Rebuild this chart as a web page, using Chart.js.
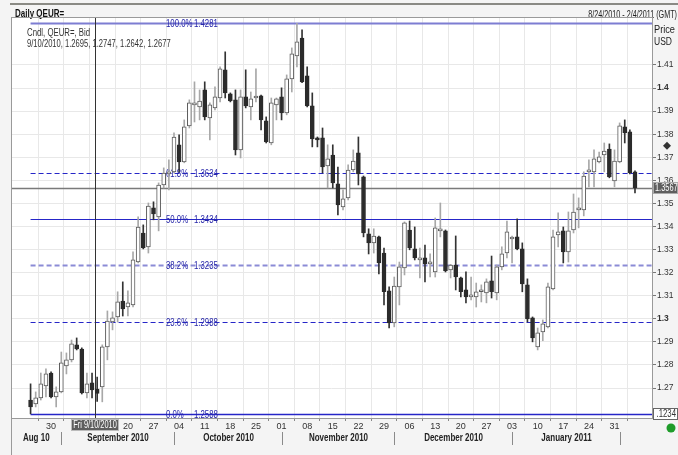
<!DOCTYPE html>
<html>
<head>
<meta charset="utf-8">
<script src="https://cdn.jsdelivr.net/npm/chart.js@4.4.1/dist/chart.umd.min.js"></script>
<style>
  html, body { margin: 0; padding: 0; background: #f4f4f4; }
  #wrap { width: 678px; height: 455px; }
</style>
</head>
<body>
<div id="wrap"><canvas id="c" width="678" height="455"></canvas></div>
<script>
// Daily QEUR= candles, 8/24/2010 - 2/4/2011 (bid)

const dates = [
  '8/24', '8/25', '8/26', '8/27',
  '8/30', '8/31', '9/1', '9/2', '9/3',
  '9/6', '9/7', '9/8', '9/9', '9/10',
  '9/13', '9/14', '9/15', '9/16', '9/17',
  '9/20', '9/21', '9/22', '9/23', '9/24',
  '9/27', '9/28', '9/29', '9/30', '10/1',
  '10/4', '10/5', '10/6', '10/7', '10/8',
  '10/11', '10/12', '10/13', '10/14', '10/15',
  '10/18', '10/19', '10/20', '10/21', '10/22',
  '10/25', '10/26', '10/27', '10/28', '10/29',
  '11/1', '11/2', '11/3', '11/4', '11/5',
  '11/8', '11/9', '11/10', '11/11', '11/12',
  '11/15', '11/16', '11/17', '11/18', '11/19',
  '11/22', '11/23', '11/24', '11/25', '11/26',
  '11/29', '11/30', '12/1', '12/2', '12/3',
  '12/6', '12/7', '12/8', '12/9', '12/10',
  '12/13', '12/14', '12/15', '12/16', '12/17',
  '12/20', '12/21', '12/22', '12/23', '12/24',
  '12/27', '12/28', '12/29', '12/30', '12/31',
  '1/3', '1/4', '1/5', '1/6', '1/7',
  '1/10', '1/11', '1/12', '1/13', '1/14',
  '1/17', '1/18', '1/19', '1/20', '1/21',
  '1/24', '1/25', '1/26', '1/27', '1/28',
  '1/31', '2/1', '2/2', '2/3', '2/4'
];

const opens = [
  1.2648, 1.2631, 1.2657, 1.2709,
  1.2765, 1.2661, 1.2683, 1.2796, 1.2822,
  1.2887, 1.2869, 1.2679, 1.2722, 1.2695,
  1.2705, 1.2878, 1.2986, 1.3008, 1.3077,
  1.3051, 1.3060, 1.3246, 1.3372, 1.3312,
  1.3481, 1.3442, 1.3580, 1.3628, 1.3637,
  1.3754, 1.3680, 1.3836, 1.3927, 1.3918,
  1.3992, 1.3871, 1.3914, 1.3957, 1.4079,
  1.3975, 1.3949, 1.3732, 1.3962, 1.3918,
  1.3957, 1.3966, 1.3858, 1.3762, 1.3927,
  1.3962, 1.3892, 1.4040, 1.4139, 1.4217,
  1.4053, 1.3923, 1.3784, 1.3784, 1.3663,
  1.3710, 1.3585, 1.3485, 1.3524, 1.3645,
  1.3719, 1.3615, 1.3368, 1.3329, 1.3355,
  1.3285, 1.3121, 1.2982, 1.3138, 1.3220,
  1.3385, 1.3303, 1.3255, 1.3264, 1.3238,
  1.3203, 1.3381, 1.3381, 1.3212, 1.3233,
  1.3177, 1.3125, 1.3095, 1.3095, 1.3117,
  1.3112, 1.3164, 1.3112, 1.3225, 1.3285,
  1.3346, 1.3355, 1.3303, 1.3147, 1.3004,
  1.2878, 1.2943, 1.2965, 1.3129, 1.3364,
  1.3381, 1.3290, 1.3385, 1.3472, 1.3472,
  1.3637, 1.3637, 1.3680, 1.3710, 1.3736,
  1.3598, 1.3680, 1.3832, 1.3810, 1.3637
];

const highs = [
  1.2718, 1.2683, 1.2765, 1.2783,
  1.2770, 1.2705, 1.2856, 1.2852, 1.2908,
  1.2917, 1.2874, 1.2765, 1.2765, 1.2747,
  1.2887, 1.3034, 1.3030, 1.3117, 1.3160,
  1.3121, 1.3290, 1.3442, 1.3407, 1.3502,
  1.3507, 1.3589, 1.3654, 1.3689, 1.3806,
  1.3797, 1.3862, 1.3949, 1.4027, 1.3992,
  1.4027, 1.3936, 1.4005, 1.4092, 1.4157,
  1.3979, 1.3992, 1.3992, 1.4079, 1.3983,
  1.4083, 1.3970, 1.3875, 1.3957, 1.3957,
  1.4001, 1.4057, 1.4174, 1.4281, 1.4252,
  1.4092, 1.3979, 1.3788, 1.3827, 1.3754,
  1.3754, 1.3658, 1.3559, 1.3667, 1.3732,
  1.3788, 1.3619, 1.3390, 1.3390, 1.3359,
  1.3307, 1.3138, 1.3181, 1.3246, 1.3420,
  1.3424, 1.3398, 1.3307, 1.3320, 1.3281,
  1.3437, 1.3502, 1.3385, 1.3236, 1.3359,
  1.3181, 1.3203, 1.3181, 1.3155, 1.3147,
  1.3173, 1.3272, 1.3233, 1.3312, 1.3424,
  1.3359, 1.3433, 1.3329, 1.3173, 1.3008,
  1.2960, 1.2995, 1.3155, 1.3385, 1.3459,
  1.3398, 1.3463, 1.3541, 1.3524, 1.3637,
  1.3689, 1.3732, 1.3723, 1.3762, 1.3758,
  1.3732, 1.3849, 1.3862, 1.3819, 1.3641
];

const lows = [
  1.2588, 1.2618, 1.2648, 1.2661,
  1.2657, 1.2618, 1.2679, 1.2761, 1.2813,
  1.2865, 1.2674, 1.2657, 1.2657, 1.2642,
  1.2640, 1.2822, 1.2952, 1.2986, 1.3012,
  1.3012, 1.3051, 1.3242, 1.3303, 1.3285,
  1.3429, 1.3381, 1.3567, 1.3559, 1.3632,
  1.3637, 1.3676, 1.3827, 1.3853, 1.3862,
  1.3862, 1.3775, 1.3905, 1.3940, 1.3957,
  1.3940, 1.3710, 1.3697, 1.3914, 1.3862,
  1.3940, 1.3819, 1.3762, 1.3754, 1.3862,
  1.3862, 1.3884, 1.3983, 1.4092, 1.4023,
  1.3918, 1.3745, 1.3745, 1.3632, 1.3567,
  1.3567, 1.3450, 1.3472, 1.3515, 1.3637,
  1.3580, 1.3355, 1.3281, 1.3285, 1.3194,
  1.3060, 1.2960, 1.2965, 1.3060, 1.3190,
  1.3299, 1.3255, 1.3177, 1.3160, 1.3181,
  1.3181, 1.3355, 1.3203, 1.3177, 1.3125,
  1.3095, 1.3069, 1.3082, 1.3051, 1.3073,
  1.3069, 1.3090, 1.3082, 1.3212, 1.3264,
  1.3242, 1.3299, 1.3117, 1.2986, 1.2900,
  1.2865, 1.2905, 1.2960, 1.3125, 1.3312,
  1.3242, 1.3246, 1.3372, 1.3394, 1.3446,
  1.3572, 1.3572, 1.3676, 1.3637, 1.3611,
  1.3572, 1.3676, 1.3762, 1.3628, 1.3546
];

const closes = [
  1.2618, 1.2657, 1.2718, 1.2761,
  1.2661, 1.2683, 1.2809, 1.2822, 1.2891,
  1.2869, 1.2679, 1.2718, 1.2692, 1.2677,
  1.2878, 1.2990, 1.3004, 1.3073, 1.3043,
  1.3069, 1.3255, 1.3398, 1.3307, 1.3489,
  1.3455, 1.3580, 1.3632, 1.3637, 1.3788,
  1.3680, 1.3832, 1.3936, 1.3931, 1.3944,
  1.3875, 1.3927, 1.3962, 1.4083, 1.3979,
  1.3944, 1.3732, 1.3962, 1.3923, 1.3953,
  1.3962, 1.3862, 1.3767, 1.3936, 1.3953,
  1.3892, 1.4040, 1.4148, 1.4200, 1.4027,
  1.3923, 1.3780, 1.3775, 1.3658, 1.3693,
  1.3589, 1.3494, 1.3520, 1.3645, 1.3684,
  1.3628, 1.3372, 1.3329, 1.3359, 1.3242,
  1.3117, 1.2982, 1.3142, 1.3225, 1.3416,
  1.3307, 1.3264, 1.3264, 1.3238, 1.3246,
  1.3394, 1.3390, 1.3207, 1.3233, 1.3181,
  1.3117, 1.3095, 1.3099, 1.3117, 1.3119,
  1.3160, 1.3117, 1.3225, 1.3281, 1.3377,
  1.3351, 1.3303, 1.3151, 1.2999, 1.2917,
  1.2939, 1.2978, 1.3138, 1.3355, 1.3377,
  1.3290, 1.3381, 1.3463, 1.3476, 1.3619,
  1.3645, 1.3693, 1.3702, 1.3727, 1.3615,
  1.3684, 1.3836, 1.3806, 1.3632, 1.3567
];

// weekly ticks (Mondays), 9/6 and 9/13 sit under the cursor label
const tickIdx = [4, 9, 14, 19, 24, 29, 34, 39, 44, 49, 54, 59, 64, 69, 74, 79, 84, 89, 94, 99, 104, 109, 114];
const tickText = ['30', '', '', '20', '27', '04', '11', '18', '25', '01', '08', '15', '22', '29', '06', '13', '20', '27', '03', '10', '17', '24', '31'];

const monthNames = ['Aug 10', 'September 2010', 'October 2010', 'November 2010', 'December 2010', 'January 2011'];
const monthFirstIdx = [6, 28, 49, 71, 94, 115];

const yTicks = [1.27, 1.28, 1.29, 1.30, 1.31, 1.32, 1.33, 1.34, 1.35, 1.36, 1.37, 1.38, 1.39, 1.40, 1.41];

const fibPct = [100, 61.8, 50, 38.2, 23.6, 0];
const fibVal = [1.4281, 1.3634, 1.3434, 1.3235, 1.2988, 1.2588];

const lastPrice = 1.3567;
const markerPrice = 1.375;
const crossIdx = 13;
const crossLabel = 'Fri 9/10/2010';
const infoLines = ['Cndl, QEUR=, Bid', '9/10/2010, 1.2695, 1.2747, 1.2642, 1.2677'];

const FONT = "'Liberation Sans', Arial, sans-serif";
const isUp = i => closes[i] >= opens[i];

const fibLook = {
  100: { color: '#7d7dd2', width: 2, dash: [] },
  61.8: { color: '#2626c8', width: 1, dash: [5, 3] },
  50: { color: '#2626c8', width: 1, dash: [] },
  38.2: { color: '#8b8bd6', width: 2, dash: [5, 3] },
  23.6: { color: '#2626c8', width: 1, dash: [5, 3] },
  0: { color: '#2626c8', width: 1.5, dash: [] }
};

// narrow text: the source uses a condensed UI face
const txt = (ctx, s, x, y, font, color, align, sx) => {
  ctx.save();
  ctx.font = font;
  ctx.fillStyle = color;
  ctx.textAlign = align;
  ctx.textBaseline = 'middle';
  ctx.translate(x, y);
  ctx.scale(sx, 1);
  ctx.fillText(s, 0, 0);
  ctx.restore();
};

const decor = {
  id: 'decor',
  beforeDraw(chart) {
    const { ctx, chartArea: a } = chart;
    ctx.save();
    ctx.fillStyle = '#f4f4f4';
    ctx.fillRect(0, 0, chart.width, chart.height);
    ctx.fillStyle = '#ffffff';
    ctx.fillRect(a.left, a.top, a.right - a.left, a.bottom - a.top);
    ctx.restore();
  },
  beforeDatasetsDraw(chart) {
    const { ctx, chartArea: a, scales: { x, y } } = chart;
    ctx.save();
    const x0 = x.getPixelForValue(0);

    // fibonacci levels
    fibPct.forEach((p, i) => {
      const look = fibLook[p];
      const py = Math.round(y.getPixelForValue(fibVal[i])) + 0.5;
      ctx.strokeStyle = look.color;
      ctx.lineWidth = look.width;
      ctx.setLineDash(look.dash);
      ctx.beginPath();
      ctx.moveTo(x0, py);
      ctx.lineTo(a.right, py);
      ctx.stroke();
      ctx.setLineDash([]);
      txt(ctx, p.toFixed(1) + '%', 166, py + 1, '10px ' + FONT, '#2525a8', 'left', 0.78);
      txt(ctx, fibVal[i].toFixed(4), 194, py + 1, '10px ' + FONT, '#2525a8', 'left', 0.78);
    });

    // last price line
    const ly = Math.round(y.getPixelForValue(lastPrice)) + 0.5;
    ctx.strokeStyle = '#7a7a7a';
    ctx.lineWidth = 1.5;
    ctx.beginPath();
    ctx.moveTo(a.left, ly);
    ctx.lineTo(a.right, ly);
    ctx.stroke();

    // cursor
    const cx = Math.round(x.getPixelForValue(crossIdx - 0.5)) + 0.5;
    ctx.strokeStyle = '#333';
    ctx.lineWidth = 1;
    ctx.beginPath();
    ctx.moveTo(cx, a.top);
    ctx.lineTo(cx, a.bottom + 3);
    ctx.stroke();
    ctx.restore();
  },
  afterDraw(chart) {
    const { ctx, chartArea: a, scales: { x, y } } = chart;
    ctx.save();

    // header
    ctx.fillStyle = '#8a8a84';
    ctx.fillRect(10, 3, chart.width - 10, 2);
    txt(ctx, 'Daily QEUR=', 15, 14, 'bold 10px ' + FONT, '#111', 'left', 0.8);
    txt(ctx, '8/24/2010 - 2/4/2011 (GMT)', chart.width - 1, 15, '10px ' + FONT, '#222', 'right', 0.72);
    txt(ctx, 'Price', 654, 30, '10px ' + FONT, '#222', 'left', 0.92);
    txt(ctx, 'USD', 654, 42, '10px ' + FONT, '#222', 'left', 0.85);

    // info text
    txt(ctx, infoLines[0], 27, 33, '10px ' + FONT, '#333', 'left', 0.78);
    txt(ctx, infoLines[1], 27, 44, '10px ' + FONT, '#333', 'left', 0.76);

    // month row
    const seps = monthFirstIdx.map(i => Math.round(x.getPixelForValue(i)) + 0.5);
    const edges = [a.left].concat(seps);
    monthNames.forEach((m, i) => {
      txt(ctx, m, (edges[i] + edges[i + 1]) / 2, 438, 'bold 10px ' + FONT, '#222', 'center', 0.8);
    });
    ctx.strokeStyle = '#8a8a8a';
    ctx.lineWidth = 1;
    seps.forEach(sx => {
      ctx.beginPath();
      ctx.moveTo(sx, 432);
      ctx.lineTo(sx, 445);
      ctx.stroke();
    });

    // cursor date label
    const cx = Math.round(x.getPixelForValue(crossIdx - 0.5));
    ctx.fillStyle = '#5e5e5e';
    ctx.fillRect(cx - 23, 420, 46, 10);
    ctx.strokeStyle = '#bbb';
    ctx.strokeRect(cx - 23.5, 419.5, 47, 11);
    txt(ctx, crossLabel, cx, 425.5, '10px ' + FONT, '#fff', 'center', 0.74);

    // last price box
    const ly = Math.round(y.getPixelForValue(lastPrice));
    ctx.fillStyle = '#5e5e5e';
    ctx.fillRect(a.right + 1, ly - 6, chart.width - a.right - 1, 12);
    ctx.strokeStyle = '#aaa';
    ctx.strokeRect(a.right + 1.5, ly - 5.5, chart.width - a.right - 2, 11);
    txt(ctx, lastPrice.toFixed(4), a.right + 3, ly + 0.5, '10px ' + FONT, '#fff', 'left', 0.74);

    // low-end box
    const by = Math.round(y.getPixelForValue(fibVal[5]));
    ctx.fillStyle = '#fff';
    ctx.fillRect(a.right + 1, by - 6, chart.width - a.right - 1, 12);
    ctx.strokeStyle = '#666';
    ctx.strokeRect(a.right + 1.5, by - 5.5, chart.width - a.right - 2, 11);
    txt(ctx, '.1234', chart.width - 2, by + 0.5, '10px ' + FONT, '#333', 'right', 0.78);

    // marker diamond on the axis
    const my = y.getPixelForValue(markerPrice);
    ctx.fillStyle = '#333';
    ctx.beginPath();
    ctx.moveTo(667, my - 4);
    ctx.lineTo(671, my);
    ctx.lineTo(667, my + 4);
    ctx.lineTo(663, my);
    ctx.closePath();
    ctx.fill();

    // status dot
    ctx.fillStyle = '#1f9c2a';
    ctx.beginPath();
    ctx.arc(671, 428, 4.5, 0, Math.PI * 2);
    ctx.fill();

    // frame
    ctx.strokeStyle = '#9a9a9a';
    ctx.strokeRect(a.left + 0.5, a.top + 0.5, a.right - a.left, a.bottom - a.top);
    ctx.beginPath();
    ctx.moveTo(a.left + 0.5, a.bottom);
    ctx.lineTo(a.left + 0.5, chart.height);
    ctx.stroke();
    ctx.restore();
  }
};

new Chart(document.getElementById('c'), {
  type: 'bar',
  data: {
    datasets: [
      {
        label: 'body',
        data: opens.map((o, i) => ({ x: i, y: [o, closes[i]] })),
        backgroundColor: c => isUp(c.dataIndex) ? '#ffffff' : '#2b2b2b',
        borderColor: c => isUp(c.dataIndex) ? '#5a5a5a' : '#2b2b2b',
        borderWidth: 1,
        borderSkipped: false,
        barThickness: 4,
        minBarLength: 2,
        grouped: false,
        order: 1
      },
      {
        label: 'wick',
        data: lows.map((l, i) => ({ x: i, y: [l, highs[i]] })),
        backgroundColor: c => isUp(c.dataIndex) ? '#a8a8a8' : '#333333',
        borderWidth: 0,
        barThickness: 1,
        grouped: false,
        order: 2
      }
    ]
  },
  options: {
    responsive: false,
    animation: false,
    events: [],
    layout: { padding: { left: 11, top: 17, right: 0, bottom: 0 } },
    plugins: { legend: { display: false }, tooltip: { enabled: false } },
    scales: {
      x: {
        type: 'linear',
        min: -1.1,
        max: 118.6,
        afterBuildTicks: s => { s.ticks = tickIdx.map(v => ({ value: v })); },
        afterFit: s => { s.height = 37; },
        ticks: {
          autoSkip: false,
          maxRotation: 0,
          padding: 0,
          color: '#333',
          font: { family: FONT, size: 9 },
          callback: v => tickText[tickIdx.indexOf(v)] || ''
        },
        grid: { color: '#e8e8e8', tickColor: '#888', tickLength: 3 },
        border: { color: '#999' }
      },
      y: {
        position: 'right',
        min: 1.2570,
        max: 1.4308,
        afterBuildTicks: s => { s.ticks = yTicks.map(v => ({ value: v })); },
        afterFit: s => { s.width = 26; },
        ticks: {
          padding: 1,
          color: '#333',
          font: c => ({
            family: FONT,
            size: 8.5,
            weight: c.tick && Math.abs(c.tick.value * 10 - Math.round(c.tick.value * 10)) < 1e-6 ? 'bold' : 'normal'
          }),
          callback: v => String(+v.toFixed(2))
        },
        grid: { color: '#e8e8e8', tickColor: '#777', tickLength: 4 },
        border: { color: '#999' }
      }
    }
  },
  plugins: [decor]
});
</script>
</body>
</html>
